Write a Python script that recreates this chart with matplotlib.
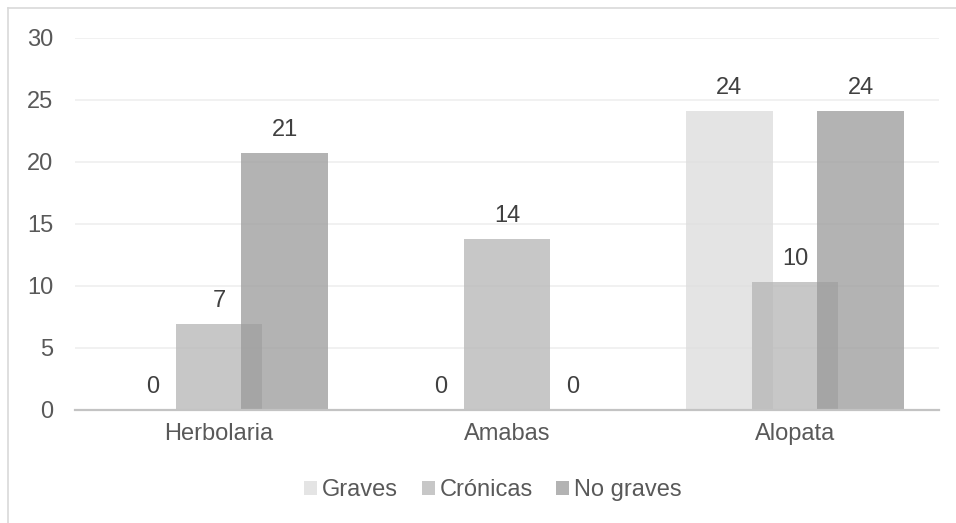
import matplotlib
matplotlib.use("Agg")
import matplotlib.pyplot as plt
import numpy as np
from matplotlib.lines import Line2D

plt.rcParams['font.family'] = ['Liberation Sans', 'DejaVu Sans']

categories = ['Herbolaria', 'Amabas', 'Alopata']
series_names = ['Graves', 'Crónicas', 'No graves']
graves = [0.0, 0.0, 24.1]
cronicas = [6.9, 13.8, 10.3]
no_graves = [20.7, 0.0, 24.1]
yticks = [0, 5, 10, 15, 20, 25, 30]

series = [graves, cronicas, no_graves]
colors = ['#dcdcdc', '#b5b5b5', '#9a9a9a']
alpha = 0.75

W, H = 956, 523
fig = plt.figure(figsize=(W / 100, H / 100), dpi=100)

# plot area in pixel coordinates
left, right, top, bottom = 75, 939, 38, 409.5
ax = fig.add_axes([left / W, 1 - bottom / H, (right - left) / W, (bottom - top) / H])

x = np.arange(len(categories))
width = 0.302
offset = 0.229
for i, (vals, name, col) in enumerate(zip(series, series_names, colors)):
    pos = x + (i - 1) * offset
    ax.bar(pos, vals, width=width, color=col, alpha=alpha, label=name,
           linewidth=0, zorder=2)
    for px, v in zip(pos, vals):
        ax.annotate(f'{v:.0f}', xy=(px, v), xytext=(0, 12.2),
                    textcoords='offset points', ha='center', va='baseline',
                    fontsize=17, color='#404040', zorder=4)

ax.set_xlim(-0.5, 2.5)
ax.set_ylim(0, 30)
ax.set_yticks(yticks)
ax.set_xticks(x)
ax.set_xticklabels(categories)
ax.tick_params(axis='both', length=0, labelsize=17, labelcolor='#595959')
ax.tick_params(axis='y', pad=15.8)
ax.tick_params(axis='x', pad=10)
ax.yaxis.grid(True, color='#efefef', linewidth=1.2, zorder=0)
ax.set_axisbelow(True)
for s in ['top', 'right', 'left']:
    ax.spines[s].set_visible(False)
ax.spines['bottom'].set_color('#c3c3c3')
ax.spines['bottom'].set_linewidth(1.6)
ax.spines['bottom'].set_zorder(3)

leg = ax.legend(loc='center', bbox_to_anchor=(493 / W, 1 - 490 / H),
                bbox_transform=fig.transFigure, ncol=3, frameon=False,
                fontsize=17, handlelength=0.55, handleheight=0.55,
                handletextpad=0.2, columnspacing=1.0, labelcolor='#595959')

# outer chart frame
fig.add_artist(Line2D([8 / W, 1], [1 - 8 / H, 1 - 8 / H], color='#d9d9d9',
                      linewidth=1.2, transform=fig.transFigure))
fig.add_artist(Line2D([8 / W, 8 / W], [0, 1 - 8 / H], color='#d9d9d9',
                      linewidth=1.2, transform=fig.transFigure))

fig.savefig('out.png', dpi=100, facecolor='white')
